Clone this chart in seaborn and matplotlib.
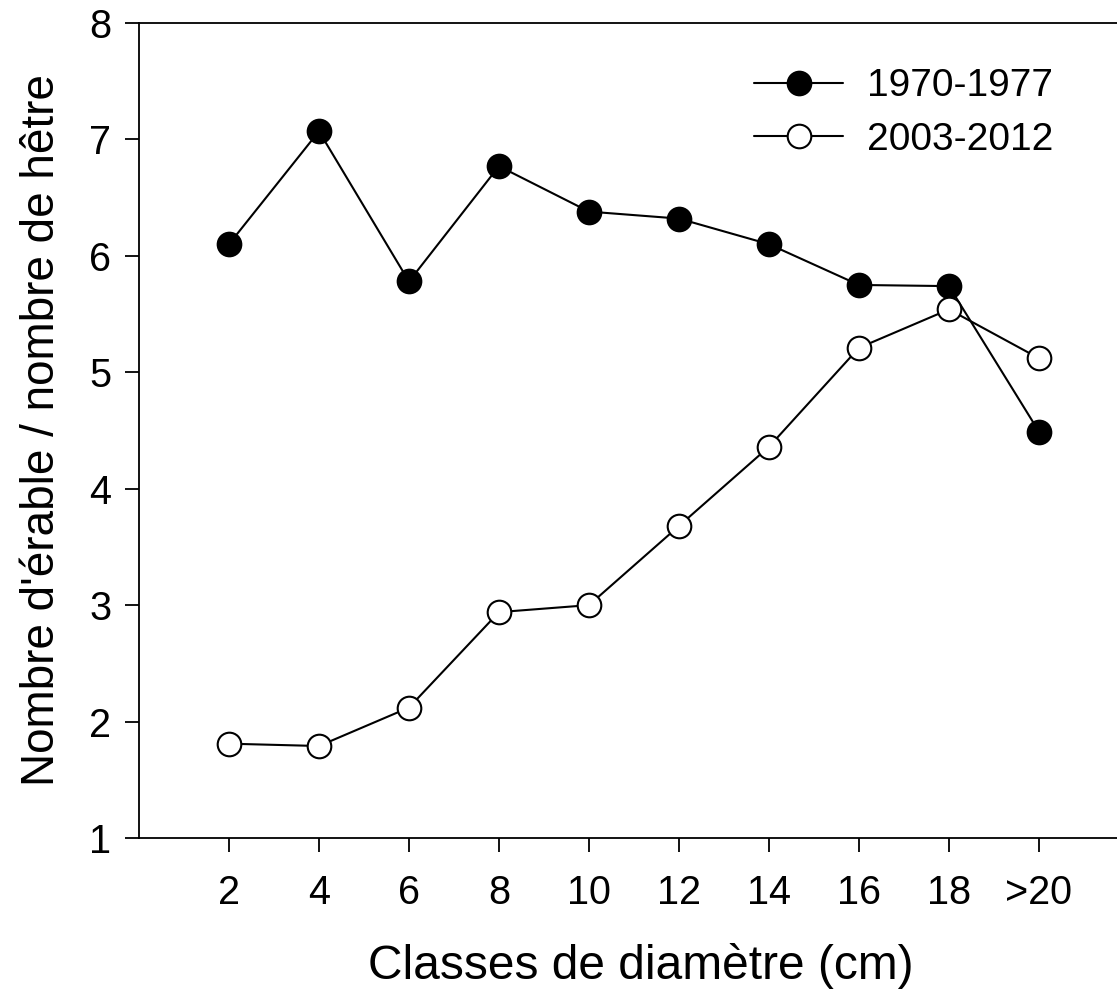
import matplotlib
matplotlib.use('Agg')
import matplotlib.pyplot as plt
import seaborn as sns
import numpy as np

classes = ['2', '4', '6', '8', '10', '12', '14', '16', '18', '>20']
ratio_1970 = [6.10, 7.07, 5.78, 6.77, 6.38, 6.32, 6.10, 5.75, 5.74, 4.49]
ratio_2003 = [1.81, 1.79, 2.12, 2.94, 3.00, 3.68, 4.36, 5.21, 5.54, 5.12]

sns.set_style('ticks')
plt.rcParams['font.family'] = ['Liberation Sans', 'DejaVu Sans']

fig = plt.figure(figsize=(11.17, 9.91), dpi=100)
ax = fig.add_axes([0.1244, 0.1544, 0.8756, 0.8224])

pos = np.arange(1, len(classes) + 1)
sns.lineplot(x=pos, y=ratio_1970, ax=ax, color='black', linewidth=1.5,
             marker='o', markersize=17, markerfacecolor='black',
             markeredgecolor='black', markeredgewidth=1.5, label='1970-1977')
sns.lineplot(x=pos, y=ratio_2003, ax=ax, color='black', linewidth=1.5,
             marker='o', markersize=17, markerfacecolor='white',
             markeredgecolor='black', markeredgewidth=1.5, label='2003-2012')

ax.set_xlim(0, 10.867)
ax.set_ylim(1, 8)
ax.set_xticks(pos)
ax.set_xticklabels(classes)
ax.set_yticks(range(1, 9))

ax.spines['right'].set_visible(False)
for s in ['left', 'bottom', 'top']:
    ax.spines[s].set_linewidth(1.3)
    ax.spines[s].set_color('black')
ax.tick_params(axis='both', direction='out', length=10, width=1.3,
               labelsize=28.5, colors='black')
ax.tick_params(axis='x', pad=16)
ax.tick_params(axis='y', pad=10)

ax.set_xlabel('Classes de diamètre (cm)', fontsize=34.5, labelpad=22, color='black')
ax.xaxis.label.set_x(0.513)
ax.set_ylabel("Nombre d'érable / nombre de hêtre", fontsize=33, labelpad=18, color='black')

ax.legend(loc='upper left', bbox_to_anchor=(0.675, 0.931),
          bbox_transform=fig.transFigure, frameon=False, fontsize=28,
          handlelength=2.3, handletextpad=0.6, labelspacing=0.45,
          borderpad=0, borderaxespad=0, labelcolor='black')

plt.savefig('out.png', dpi=100)
